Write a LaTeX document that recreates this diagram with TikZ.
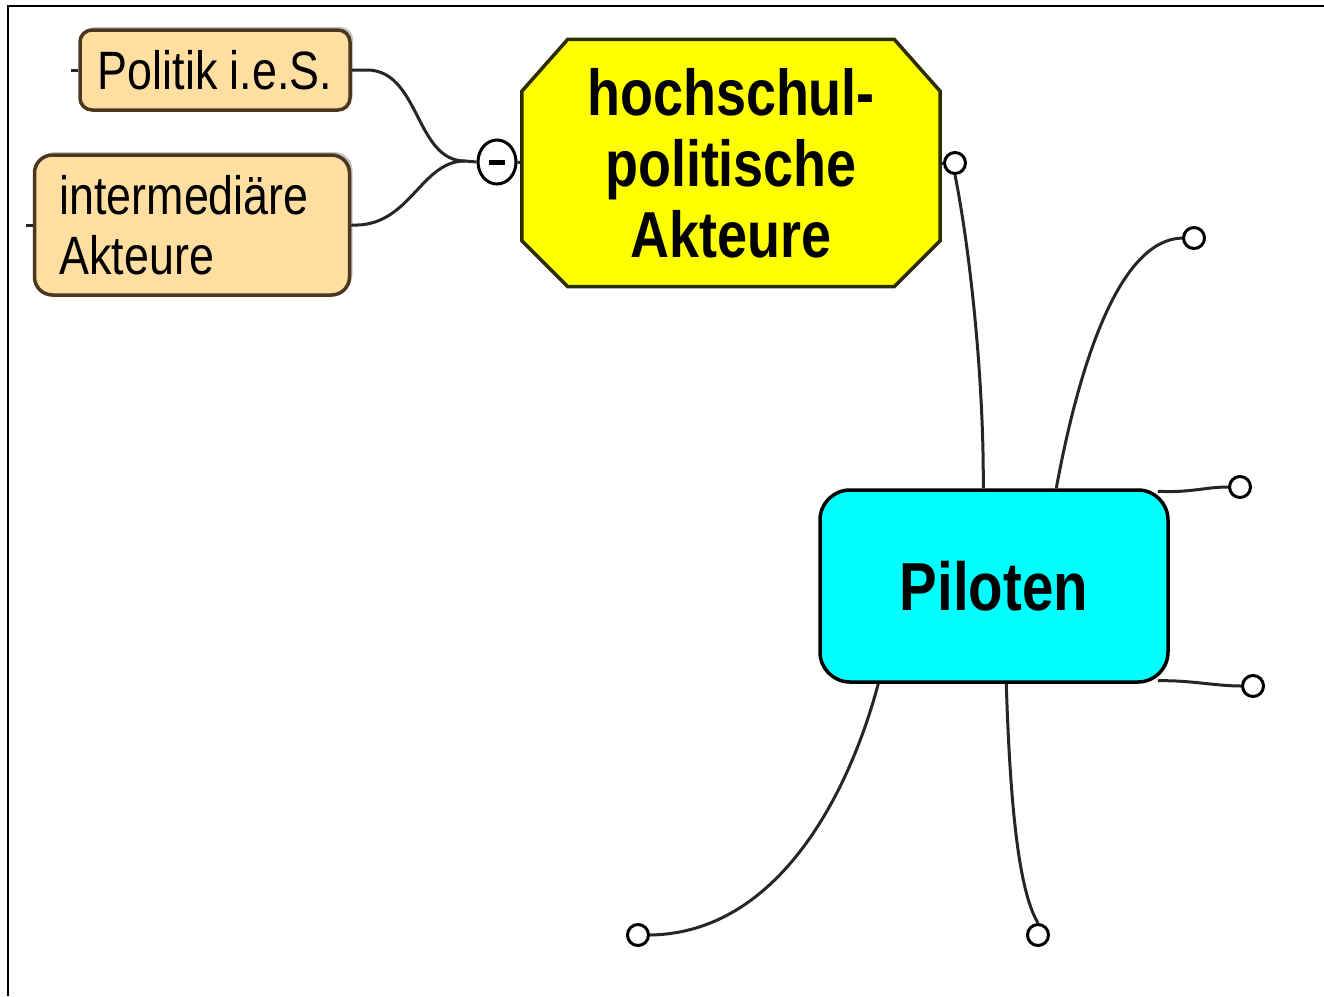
\documentclass[tikz,border=0pt]{standalone}
\usepackage{fontspec}
\newfontfamily\mapfont[FakeStretch=0.83]{Liberation Sans}
\usetikzlibrary{shapes.geometric,shadows,backgrounds}
\definecolor{topicorange}{RGB}{255,222,161}
\definecolor{topicbrown}{RGB}{75,55,30}
\definecolor{topicolive}{RGB}{45,45,0}
\definecolor{topicyellow}{RGB}{255,255,0}
\definecolor{topiccyan}{RGB}{0,255,255}
\tikzset{
  subtopic/.style={draw=topicbrown, fill=topicorange, line width=3.5pt, rounded corners=12pt,
    drop shadow={shadow xshift=3pt, shadow yshift=3pt, fill=black!45},
    font=\mapfont\fontsize{54}{60}\selectfont},
  knob/.style={circle, draw, line width=3pt, fill=white, minimum size=21pt, inner sep=0pt},
  branch/.style={line width=3pt, draw=black!85}
}

\begin{document}
\begin{tikzpicture}[x=1pt,y=-1pt]
    \useasboundingbox (0,0) rectangle (1324,996);
    \draw[line width=2pt] (8,996) -- (8,6) -- (1324,6);
    \node[subtopic, minimum width=270, minimum height=80, inner sep=0pt] (politik) at (215,70) {Politik i.e.S.};
    \node[subtopic, minimum width=315, minimum height=140, text width=265, align=left, inner xsep=25, inner ysep=0pt, rounded corners=18pt] (intermed) at (192,225) {intermediäre\\Akteure};
    \node[minimum width=418, minimum height=247, inner sep=0pt, align=center, font=\mapfont\bfseries\fontsize{65}{71}\selectfont] (hochschul) at (731,163) {hochschul-\\politische\\Akteure};
    \begin{scope}[on background layer]
      \draw[draw=topicolive, fill=topicyellow, line width=3.5pt] ([xshift=46pt]hochschul.north west) -- ([xshift=-46pt]hochschul.north east) -- ([yshift=-52pt]hochschul.north east) -- ([yshift=46pt]hochschul.south east) -- ([xshift=-46pt]hochschul.south east) -- ([xshift=46pt]hochschul.south west) -- ([yshift=46pt]hochschul.south west) -- ([yshift=-52pt]hochschul.north west) -- cycle;
    \end{scope}
    \node[draw=black, fill=topiccyan, line width=3.5pt, rounded corners=30pt, minimum width=348, minimum height=192, inner sep=0pt, font=\mapfont\bfseries\fontsize{68}{72}\selectfont] (piloten) at (994,586) {Piloten};
    \node[ellipse, draw, line width=3pt, fill=white, minimum width=38, minimum height=44, inner sep=0pt] (fold) at (497,162) {};
    \draw[line width=5pt] ([xshift=-8pt]fold.center) -- ([xshift=8pt]fold.center);
    \coordinate (join) at (465,161);
    \node[knob] (k1) at (955,163) {};
    \node[knob] (k2) at (1194,238) {};
    \node[knob] (k3) at (1240,487) {};
    \node[knob] (k4) at (1253,686) {};
    \node[knob] (k5) at (638,935) {};
    \node[knob] (k6) at (1038,935) {};
    \draw[branch] (politik.west) -- ++(-7,0);
    \draw[branch] (intermed.west) -- ++(-7,0);
    \draw[branch] (politik.east) -- ++(15,0) .. controls (420,70) and (415,161) .. (join);
    \draw[branch] (intermed.east) .. controls (410,228) and (420,161) .. (join) -- (fold.west);
    \draw[branch] (fold.east) -- (hochschul.west);
    \draw[branch] (hochschul.east) -- (k1.west);
    \draw[branch] (k1.south) .. controls (970,250) and (984,380) .. ([xshift=165pt]piloten.north west);
    \draw[branch] ([xshift=238pt]piloten.north west) .. controls (1080,360) and (1120,240) .. (k2.west);
    \draw[branch] ([xshift=-12pt,yshift=-3pt]piloten.north east) .. controls (1190,493) and (1205,487) .. (k3.west);
    \draw[branch] ([xshift=-12pt,yshift=3pt]piloten.south east) .. controls (1190,680) and (1215,686) .. (k4.west);
    \draw[branch] ([xshift=60pt]piloten.south west) .. controls (850,790) and (780,933) .. (k5.east);
    \draw[branch] ([xshift=188pt]piloten.south west) .. controls (1010,800) and (1018,890) .. (k6.north);
\end{tikzpicture}
\end{document}
